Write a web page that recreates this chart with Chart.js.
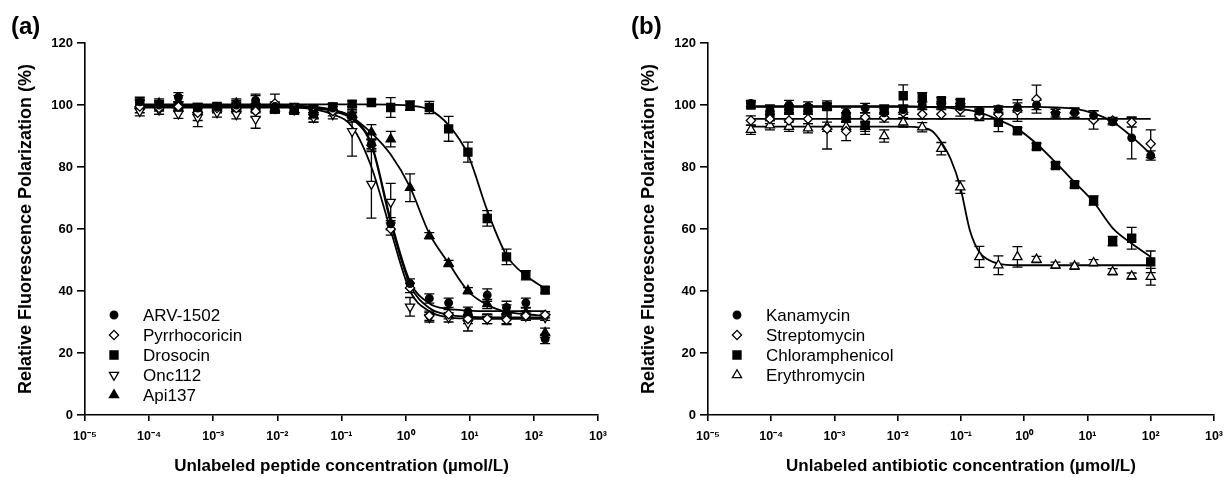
<!DOCTYPE html>
<html>
<head>
<meta charset="utf-8">
<script src="https://cdn.jsdelivr.net/npm/chart.js"></script>
<style>
  body { margin: 0; background: #fff; width: 1231px; height: 477px; position: relative; overflow: hidden;
         font-family: Arial, "Liberation Sans", sans-serif; }
  .panel { position: absolute; top: 0; width: 615px; height: 477px; }
  .tag { position: absolute; top: 14px; font-weight: bold; font-size: 24px; line-height: 24px; color: #000; }
</style>
</head>
<body>
<div class="panel" style="left:0"><canvas id="chartA" width="615" height="477"></canvas></div>
<div class="panel" style="left:616px"><canvas id="chartB" width="615" height="477"></canvas></div>
<div class="tag" style="left:11px">(a)</div>
<div class="tag" style="left:631px">(b)</div>
<script>
// ---- axis ticks ----
const decades = [1e-5, 1e-4, 1e-3, 1e-2, 1e-1, 1, 10, 100, 1000];
const xTickLabels = ['10\u207B\u2075', '10\u207B\u2074', '10\u207B\u00B3', '10\u207B\u00B2', '10\u207B\u00B9',
                     '10\u2070', '10\u00B9', '10\u00B2', '10\u00B3'];

// ---- panel (a): peptides, 2-fold dilutions (umol/L) ----
const concA = [7.153e-5, 1.431e-4, 2.861e-4, 5.722e-4, 1.144e-3, 2.289e-3, 4.578e-3, 9.155e-3,
               0.01831, 0.03662, 0.07324, 0.1465, 0.293, 0.5859, 1.172, 2.344, 4.688, 9.375,
               18.75, 37.5, 75, 150];

const arvY    = [101, 100, 102.5, 99, 99.5, 100, 101.5, 99.5, 98.5, 97, 99, 96.5, 87.5, 61.7, 42.4, 37.6, 36.2, 33.3, 38.7, 34.7, 36.2, 24.5];
const arvErr  = [1.5, 1.5, 1.5, 1.5, 1, 1.5, 2, 1.5, 1, 1.5, 1.5, 1.5, 1.5, 2, 1.5, 1.5, 1.5, 1.5, 2, 2, 1.5, 1.5];
const pyrY    = [99.5, 99, 99.5, 97.5, 99, 99, 98, 100.5, 99, 97.5, 98, 96, 87, 60, 41, 32, 32.5, 31, 31, 30.7, 32, 32.3];
const pyrErr  = [2, 2, 1.5, 2.5, 1.5, 1.5, 2, 3, 1.5, 1.5, 1.5, 1.5, 2, 2, 1.5, 1.5, 1.5, 1.5, 1.5, 1.5, 1.5, 1];
const drosY   = [100.5, 99.5, 99.5, 99, 99.5, 99.5, 99, 99, 98.5, 98.5, 99.4, 100.3, 100.8, 99.2, 99.8, 99.2, 92.3, 84.8, 63.4, 51, 45.1, 40.3];
const drosErr = [1.5, 1.5, 1.5, 1.5, 1, 1.5, 1.5, 1.5, 1.5, 1.5, 1, 1, 1, 3.2, 1.5, 2, 4, 3.2, 2.5, 2.5, 1.5, 1];
const oncY    = [98, 98.5, 97.2, 96, 97.6, 97, 95.5, 99, 98.5, 96, 97, 91.5, 74.5, 68.7, 34.9, 31.5, 31.5, 29.6, 31, 31, 32, 31.5];
const oncErr  = [1.5, 1.5, 1.5, 3, 1.5, 1.5, 3, 1.5, 1, 1.5, 1.5, 8, 11, 6, 3, 1.5, 1.5, 2.5, 1.5, 1.5, 1.5, 1];
const apiY    = [100, 100.5, 101, 98.5, 99, 100.5, 101, 99, 98.5, 96.5, 99, 97, 91.2, 89, 73.3, 57.8, 48.9, 40.1, 35.8, 33.5, 33, 26.5];
const apiErr  = [1.5, 1.5, 2, 1.5, 1, 1.5, 2, 1.5, 1, 2, 1.5, 1.5, 2.5, 2.5, 4.5, 1, 1, 1, 1.5, 2, 1.5, 1.5];

// fitted curves at the same concentrations
const arvFit  = [99.6, 99.6, 99.6, 99.6, 99.6, 99.6, 99.6, 99.6, 99.6, 99.2, 98.3, 96, 87.5, 63, 43, 36, 34.2, 33.7, 33.5, 33.5, 33.5, 33.5];
const pyrFit  = [99.4, 99.4, 99.4, 99.4, 99.4, 99.4, 99.4, 99.4, 99.4, 99, 98, 95.5, 87, 62, 42, 34.5, 32.3, 31.7, 31.5, 31.5, 31.5, 31.5];
const drosFit = [100.2, 100.2, 100.2, 100.2, 100.2, 100.2, 100.2, 100.2, 100.2, 100.2, 100.2, 100.2, 100.2, 100.1, 99.8, 98.5, 93.5, 84, 66, 51.5, 45, 40.8];
const oncFit  = [99.2, 99.2, 99.2, 99.2, 99.2, 99.2, 99.2, 99.2, 99.2, 98.7, 97, 93, 80, 59.5, 40, 33.5, 31.5, 31.1, 31, 31, 31, 31];
const apiFit  = [99.7, 99.7, 99.7, 99.7, 99.7, 99.7, 99.7, 99.7, 99.7, 99.5, 98.5, 96, 91, 84, 73.5, 58.5, 49, 40, 35.5, 33.3, 32.5, 32];

// ---- panel (b): antibiotics ----
const concB = [4.768e-5, 9.537e-5, 1.907e-4, 3.815e-4, 7.629e-4, 1.526e-3, 3.052e-3, 6.104e-3,
               0.01221, 0.02441, 0.04883, 0.09766, 0.1953, 0.3906, 0.7813, 1.563, 3.125, 6.25,
               12.5, 25, 50, 100];

const kanaY    = [100.5, 98.5, 100, 99.5, 99.8, 97.5, 99, 97.5, 98.5, 100, 100, 99.5, 98, 98.7, 99.2, 100, 97.1, 97.6, 96.6, 94.6, 89.4, 83.7];
const kanaErr  = [1, 1.5, 1.5, 1.5, 1.5, 1.5, 1.5, 1.5, 1.5, 1, 1, 1, 1, 1, 1.5, 1.5, 1.5, 1.5, 1.5, 1, 6.8, 1.5];
const strepY   = [95, 95.5, 95, 95.5, 92.3, 91.5, 96, 96, 97.6, 97, 97, 98.4, 96.5, 97, 98.2, 101.9, 97.6, 97.4, 95.2, 95, 94.4, 87.5];
const strepErr = [1.5, 1.5, 2.5, 1.5, 6.5, 3, 1.5, 1.5, 2, 1.5, 1.5, 2, 1.5, 1.5, 3.5, 4.5, 1.5, 1.5, 3, 1, 1.5, 4.5];
const chlorY   = [100, 96.5, 98.5, 98.5, 99.5, 96, 93.5, 98.5, 103, 102.5, 101.4, 100.8, 97.1, 94.4, 91.7, 86.6, 80.5, 74.3, 69.2, 56.1, 57, 49.4];
const chlorErr = [1, 1.5, 1.5, 1.5, 1, 1.5, 3, 1.5, 3.5, 1.5, 1, 1, 1.5, 3, 1, 1, 1, 1, 1.5, 1.5, 3.5, 3.5];
const eryY     = [92, 93.5, 93, 92.5, 93, 93, 93, 90, 94.4, 92.8, 85.9, 73.5, 51, 48.3, 51, 50.2, 48.3, 48, 49.1, 46.2, 44.8, 44.6];
const eryErr   = [1.5, 1.5, 1.5, 1.5, 1.5, 1.5, 1.5, 2, 1.5, 1.5, 2, 2, 3.4, 3, 3.3, 1, 1, 1, 1, 1, 1, 2.7];

const kanaFit  = [99.4, 99.4, 99.4, 99.4, 99.4, 99.4, 99.4, 99.4, 99.4, 99.4, 99.4, 99.4, 99.4, 99.4, 99.4, 99.4, 99.2, 98.8, 97.3, 94.6, 89.8, 84.2];
const strepFit = [95.5, 95.5, 95.5, 95.5, 95.5, 95.5, 95.5, 95.5, 95.5, 95.5, 95.5, 95.5, 95.5, 95.5, 95.5, 95.5, 95.5, 95.5, 95.5, 95.5, 95.5, 95.5];
const chlorFit = [99.6, 99.6, 99.6, 99.6, 99.6, 99.6, 99.6, 99.6, 99.6, 99.5, 99.2, 98.7, 97.6, 95.2, 92.3, 87.5, 81.5, 75.1, 68.7, 60.3, 55.3, 51];
// erythromycin drops steeply, so its curve was read at a few extra points
const eryFitX  = [4.768e-5, 0.01221, 0.02441, 0.0345, 0.04883, 0.069, 0.09766, 0.138, 0.1953, 0.276, 0.3906, 0.7813, 100];
const eryFitY  = [93, 93, 92.6, 91.7, 88, 82.5, 73.5, 59.6, 52.5, 50, 48.8, 48.3, 48.3];

Chart.defaults.font.family = 'Arial, "Liberation Sans", sans-serif';
Chart.defaults.color = '#000';

const pts = (xs, ys) => xs.map((x, i) => ({ x: x, y: ys[i] }));

function markers(label, xs, ys, errs, style, filled, radius, rotation) {
    return {
        label: label,
        data: pts(xs, ys),
        errors: errs,
        showLine: false,
        pointStyle: style,
        pointRotation: rotation || 0,
        pointRadius: radius,
        pointHoverRadius: radius,
        pointBorderWidth: 1.3,
        pointBorderColor: '#000',
        pointBackgroundColor: filled ? '#000' : '#fff',
        order: 0
    };
}

function fitLine(xs, ys) {
    return {
        label: '',
        data: pts(xs, ys),
        showLine: true,
        borderColor: '#000',
        borderWidth: 1.8,
        pointRadius: 0,
        cubicInterpolationMode: 'monotone',
        order: 1
    };
}

// vertical error bars with caps, through the y scale
const errorBars = {
    id: 'errorBars',
    beforeDatasetsDraw(chart) {
        const ctx = chart.ctx;
        const yScale = chart.scales.y;
        chart.data.datasets.forEach((ds, i) => {
            if (!ds.errors) return;
            const meta = chart.getDatasetMeta(i);
            ctx.save();
            ctx.strokeStyle = '#000';
            ctx.lineWidth = 1.3;
            meta.data.forEach((pt, j) => {
                const e = ds.errors[j];
                if (!e) return;
                const v = ds.data[j].y;
                const top = yScale.getPixelForValue(v + e);
                const bot = yScale.getPixelForValue(v - e);
                ctx.beginPath();
                ctx.moveTo(pt.x, top); ctx.lineTo(pt.x, bot);
                ctx.moveTo(pt.x - 5, top); ctx.lineTo(pt.x + 5, top);
                ctx.moveTo(pt.x - 5, bot); ctx.lineTo(pt.x + 5, bot);
                ctx.stroke();
            });
            ctx.restore();
        });
    }
};

// legend drawn inside the plot area, markers only
const markerLegend = {
    id: 'markerLegend',
    afterDraw(chart, args, opts) {
        const ctx = chart.ctx;
        let y = opts.y;
        ctx.save();
        chart.data.datasets.forEach(ds => {
            if (!ds.errors) return;
            ctx.fillStyle = ds.pointBackgroundColor;
            ctx.strokeStyle = '#000';
            ctx.lineWidth = 1.3;
            Chart.helpers.drawPoint(ctx, {
                pointStyle: ds.pointStyle,
                rotation: ds.pointRotation,
                radius: ds.pointRadius,
                borderWidth: 1.3
            }, opts.x, y);
            ctx.fillStyle = '#000';
            ctx.font = '17px Arial, "Liberation Sans", sans-serif';
            ctx.textBaseline = 'middle';
            ctx.fillText(ds.label, opts.x + 29, y + 1);
            y += opts.gap;
        });
        ctx.restore();
    }
};

function makeChart(id, datasets, xTitle, yWidth, titlePad, padRight, legendX) {
    return new Chart(document.getElementById(id), {
        type: 'scatter',
        data: { datasets: datasets },
        plugins: [errorBars, markerLegend],
        options: {
            responsive: false,
            animation: false,
            layout: { padding: { top: 43, right: padRight, left: 0, bottom: 0 } },
            plugins: {
                legend: { display: false },
                tooltip: { enabled: false },
                markerLegend: { x: legendX, y: 315, gap: 20 }
            },
            scales: {
                x: {
                    type: 'logarithmic',
                    min: 1e-5,
                    max: 1e3,
                    afterBuildTicks: s => { s.ticks = decades.map(v => ({ value: v })); },
                    afterFit: s => { s.height = 62; },
                    ticks: {
                        autoSkip: false,
                        maxRotation: 0,
                        padding: 8,
                        font: { size: 12.5, weight: 'bold' },
                        callback: (v, i) => xTickLabels[i]
                    },
                    grid: { drawOnChartArea: false, drawTicks: true, tickLength: 6, color: '#000', lineWidth: 1.6 },
                    border: { color: '#000', width: 1.6 },
                    title: {
                        display: true,
                        text: xTitle,
                        font: { size: 17, weight: 'bold' },
                        padding: { top: 0, bottom: 0 }
                    }
                },
                y: {
                    min: 0,
                    max: 120,
                    afterFit: s => { s.width = yWidth; },
                    ticks: { stepSize: 20, padding: 4, font: { size: 13, weight: 'bold' } },
                    grid: { drawOnChartArea: false, drawTicks: true, tickLength: 8, color: '#000', lineWidth: 1.6 },
                    border: { color: '#000', width: 1.6 },
                    title: {
                        display: true,
                        text: 'Relative Fluorescence Polarization (%)',
                        font: { size: 18, weight: 'bold' },
                        padding: { top: titlePad, bottom: 0 }
                    }
                }
            }
        }
    });
}

makeChart('chartA', [
    markers('ARV-1502', concA, arvY, arvErr, 'circle', true, 3.8),
    markers('Pyrrhocoricin', concA, pyrY, pyrErr, 'rectRot', false, 4.6),
    markers('Drosocin', concA, drosY, drosErr, 'rect', true, 5.7),
    markers('Onc112', concA, oncY, oncErr, 'triangle', false, 5.3, 180),
    markers('Api137', concA, apiY, apiErr, 'triangle', true, 5.3),
    fitLine(concA, arvFit),
    fitLine(concA, pyrFit),
    fitLine(concA, drosFit),
    fitLine(concA, oncFit),
    fitLine(concA, apiFit)
], 'Unlabeled peptide concentration (\u00B5mol/L)', 85, 15, 15, 114);

makeChart('chartB', [
    markers('Kanamycin', concB, kanaY, kanaErr, 'circle', true, 3.8),
    markers('Streptomycin', concB, strepY, strepErr, 'rectRot', false, 4.6),
    markers('Chloramphenicol', concB, chlorY, chlorErr, 'rect', true, 5.7),
    markers('Erythromycin', concB, eryY, eryErr, 'triangle', false, 5.3),
    fitLine(concB, kanaFit),
    fitLine(concB, strepFit),
    fitLine(concB, chlorFit),
    fitLine(eryFitX, eryFitY)
], 'Unlabeled antibiotic concentration (\u00B5mol/L)', 92, 22, 10, 121);
</script>
</body>
</html>
